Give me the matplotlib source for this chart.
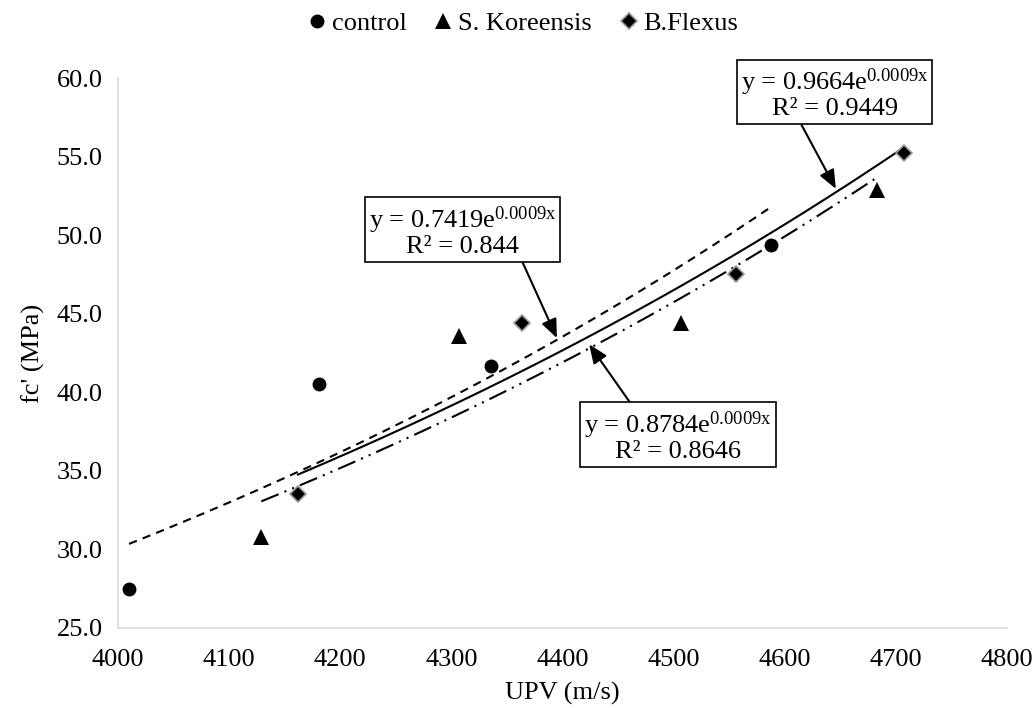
import numpy as np
import matplotlib.pyplot as plt

plt.rcParams['font.family'] = ['Liberation Serif', 'DejaVu Serif']
plt.rcParams['mathtext.fontset'] = 'custom'
plt.rcParams['mathtext.rm'] = 'Liberation Serif'
plt.rcParams['mathtext.it'] = 'Liberation Serif:italic'

# UPV (m/s) vs compressive strength (MPa)
control_x = [4010, 4181, 4336, 4588]
control_y = [27.5, 40.5, 41.7, 49.4]
kor_x = [4129, 4307, 4507, 4683]
kor_y = [30.8, 43.6, 44.4, 52.9]
flex_x = [4162, 4364, 4556, 4707]
flex_y = [33.5, 44.4, 47.5, 55.2]

labels = ['control', 'S. Koreensis', 'B.Flexus']
equations = [r'y = 0.7419e$^{\mathrm{0.0009x}}$' + '\nR² = 0.844',
             r'y = 0.8784e$^{\mathrm{0.0009x}}$' + '\nR² = 0.8646',
             r'y = 0.9664e$^{\mathrm{0.0009x}}$' + '\nR² = 0.9449']

FS = 19

fig = plt.figure(figsize=(10.32, 7.08), dpi=100)
ax = fig.add_axes([0.1143, 0.113, 0.8615, 0.7768])

series = [(control_x, control_y, 'o', 10, (0, (4, 3))),
          (kor_x, kor_y, '^', 12, (0, (9, 3, 1, 3, 1, 3))),
          (flex_x, flex_y, 'D', 8, '-')]

handles = []
for (xs, ys, m, ms, ls), lab in zip(series, labels):
    ec = '#9a9a9a' if m == 'D' else 'black'
    h, = ax.plot(xs, ys, linestyle='none', marker=m, markersize=ms,
                 color='black', markeredgecolor=ec,
                 markeredgewidth=1.2 if m == 'D' else 0,
                 label=lab, zorder=3)
    handles.append(h)
    # exponential trendline fitted on log(y)
    b, a = np.polyfit(xs, np.log(ys), 1)
    xx = np.linspace(min(xs), max(xs), 200)
    ax.plot(xx, np.exp(a) * np.exp(b * xx), color='black', lw=1.5,
            linestyle=ls, zorder=2)

# equation call-outs: (text position, arrow tip, relpos)
callouts = [((4310, 50.25), (4395, 43.45), (0.81, 0.0)),
            ((4504, 37.2), (4424, 43.05), (0.27, 1.0)),
            ((4645, 59.0), (4646, 52.95), (0.31, 0.0))]
for eq, (txy, tip, rp) in zip(equations, callouts):
    ax.annotate(eq, xy=tip, xytext=txy, ha='center', va='center',
                fontsize=FS, linespacing=1.0, multialignment='center',
                bbox=dict(boxstyle='square,pad=0.15', fc='white', ec='black', lw=1.2),
                arrowprops=dict(arrowstyle='-|>,head_length=0.6,head_width=0.25',
                                color='black', lw=1.5, relpos=rp,
                                shrinkA=0, shrinkB=0),
                zorder=5)

ax.set_xlim(4000, 4800)
ax.set_ylim(25, 60)
ax.set_xticks(np.arange(4000, 4801, 100))
ax.set_yticks(np.arange(25, 60.1, 5))
ax.set_yticklabels([f'{v:.1f}' for v in np.arange(25, 60.1, 5)])
ax.tick_params(length=0, labelsize=FS)
ax.tick_params(axis='y', pad=11)
ax.tick_params(axis='x', pad=15)
for s in ['top', 'right']:
    ax.spines[s].set_visible(False)
for s in ['left', 'bottom']:
    ax.spines[s].set_color('#d9d9d9')
    ax.spines[s].set_linewidth(1.2)

ax.set_xlabel('UPV (m/s)', fontsize=FS, labelpad=8)
ax.set_ylabel("fc' (MPa)", fontsize=FS, labelpad=8)

fig.legend(handles=handles, loc='center', bbox_to_anchor=(0.506, 0.967), ncol=3,
           frameon=False, fontsize=FS, handletextpad=0.15, columnspacing=1.0,
           handlelength=0.8, markerscale=1.0, borderpad=0)

fig.savefig('out.png', dpi=100)
